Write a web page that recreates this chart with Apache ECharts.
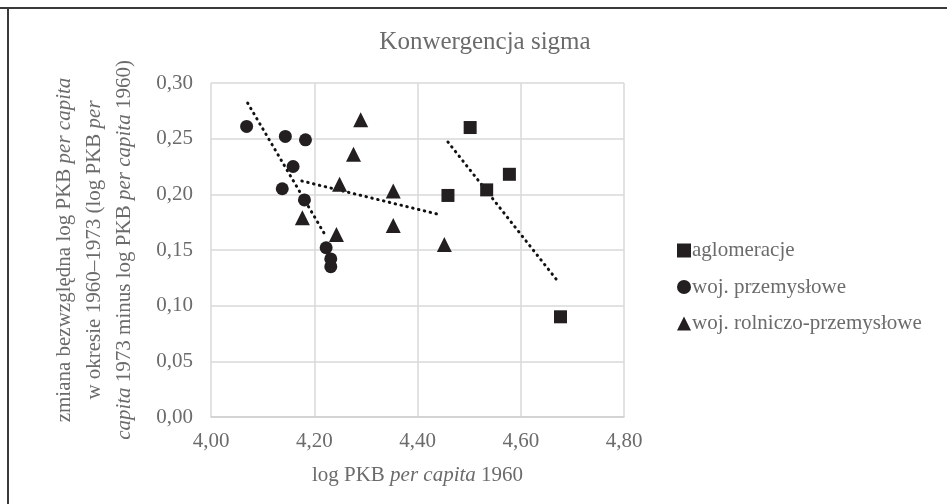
<!DOCTYPE html>
<html>
<head>
<meta charset="utf-8">
<script src="https://cdn.jsdelivr.net/npm/echarts@6/dist/echarts.min.js"></script>
<style>
  html, body { margin: 0; padding: 0; background: #fff; }
  #chart { width: 947px; height: 504px; }
</style>
</head>
<body>
<div id="chart"></div>
<script>
// values: [log PKB per capita 1960, change 1960-1973]
const aglomeracje = [[4.459, 0.199], [4.502, 0.260], [4.534, 0.204], [4.578, 0.218], [4.677, 0.090]];
const wojPrzemyslowe = [
  [4.069, 0.261], [4.144, 0.252], [4.183, 0.249], [4.159, 0.225], [4.138, 0.205],
  [4.181, 0.195], [4.223, 0.152], [4.232, 0.142], [4.232, 0.135]
];
const wojRolniczoPrzemyslowe = [
  [4.290, 0.267], [4.276, 0.236], [4.249, 0.209], [4.177, 0.179], [4.243, 0.164],
  [4.353, 0.203], [4.353, 0.172], [4.452, 0.155]
];
// linear trend lines, ends as drawn in the picture
const trendAglomeracje = [[4.459, 0.247], [4.670, 0.123]];
const trendPrzemyslowe = [[4.071, 0.282], [4.223, 0.162]];
const trendRolniczo = [[4.176, 0.212], [4.441, 0.182]];

const seriesNames = ['aglomeracje', 'woj. przemysłowe', 'woj. rolniczo-przemysłowe'];
const xTicks = { min: 4.0, max: 4.8, interval: 0.2 };
const yTicks = { min: 0.0, max: 0.3, interval: 0.05 };

const textGrey = '#6b6b6b';
const markColor = '#231f20';
const font = '"Liberation Serif", "Times New Roman", serif';

const chart = echarts.init(document.getElementById('chart'));

function trend(data) {
  return {
    type: 'line',
    data: data,
    symbol: 'none',
    silent: true,
    z: 1,
    lineStyle: { color: '#111', width: 3, type: [0.5, 5.5], cap: 'round' }
  };
}

function scatter(name, data, symbol, size) {
  return {
    name: name,
    type: 'scatter',
    data: data,
    symbol: symbol,
    symbolSize: size,
    z: 3,
    itemStyle: { color: markColor, opacity: 1 }
  };
}

const option = {
  animation: false,
  textStyle: { fontFamily: font },
  title: {
    text: 'Konwergencja sigma',
    left: 480,
    top: 25,
    textAlign: 'center',
    textStyle: { fontFamily: font, fontSize: 25, fontWeight: 'normal', color: textGrey }
  },
  graphic: [
    { type: 'line', shape: { x1: 0, y1: 8, x2: 947, y2: 8 }, style: { stroke: '#3a3a3a', lineWidth: 2 } },
    { type: 'line', shape: { x1: 8, y1: 8, x2: 8, y2: 504 }, style: { stroke: '#3a3a3a', lineWidth: 2 } }
  ],
  grid: { left: 211, right: 323, top: 83, bottom: 87 },
  legend: {
    data: seriesNames,
    orient: 'vertical',
    left: 677,
    top: 240,
    padding: 0,
    itemWidth: 14,
    itemHeight: 14,
    itemGap: 15.5,
    textStyle: { fontFamily: font, fontSize: 21, color: textGrey, padding: [0, 0, 0, -4] }
  },
  xAxis: {
    type: 'value',
    min: xTicks.min,
    max: xTicks.max,
    interval: xTicks.interval,
    name: '{n|log PKB }{i|per capita}{n| 1960}',
    nameLocation: 'middle',
    nameGap: 48,
    nameTextStyle: {
      rich: {
        n: { fontFamily: font, fontSize: 21, color: textGrey },
        i: { fontFamily: font, fontSize: 21, color: textGrey, fontStyle: 'italic' }
      }
    },
    axisLine: { show: true, lineStyle: { color: '#d0d0d0', width: 1.5 } },
    axisTick: { show: false },
    splitLine: { show: true, lineStyle: { color: '#d9d9d9', width: 1.5 } },
    axisLabel: {
      margin: 14,
      fontFamily: font,
      fontSize: 21,
      color: textGrey,
      formatter: v => v.toFixed(2).replace('.', ',')
    }
  },
  yAxis: {
    type: 'value',
    min: yTicks.min,
    max: yTicks.max,
    interval: yTicks.interval,
    name: '{n|zmiana bezwzględna log PKB }{i|per capita}\n' +
          '{n|w okresie 1960–1973 (log PKB }{i|per}\n' +
          '{i|capita}{n| 1973 minus log PKB }{i|per capita}{n| 1960)}',
    nameLocation: 'middle',
    nameRotate: 90,
    nameGap: 72,
    nameTextStyle: {
      lineHeight: 30,
      rich: {
        n: { fontFamily: font, fontSize: 21, color: textGrey, lineHeight: 30 },
        i: { fontFamily: font, fontSize: 21, color: textGrey, fontStyle: 'italic', lineHeight: 30 }
      }
    },
    axisLine: { show: false },
    axisTick: { show: false },
    splitLine: { show: true, lineStyle: { color: '#d9d9d9', width: 1.5 } },
    axisLabel: {
      margin: 18,
      fontFamily: font,
      fontSize: 21,
      color: textGrey,
      formatter: v => v.toFixed(2).replace('.', ',')
    }
  },
  series: [
    trend(trendAglomeracje),
    trend(trendPrzemyslowe),
    trend(trendRolniczo),
    scatter(seriesNames[0], aglomeracje, 'rect', 13),
    scatter(seriesNames[1], wojPrzemyslowe, 'circle', 13),
    scatter(seriesNames[2], wojRolniczoPrzemyslowe, 'triangle', 15)
  ]
};

chart.setOption(option);
</script>
</body>
</html>
